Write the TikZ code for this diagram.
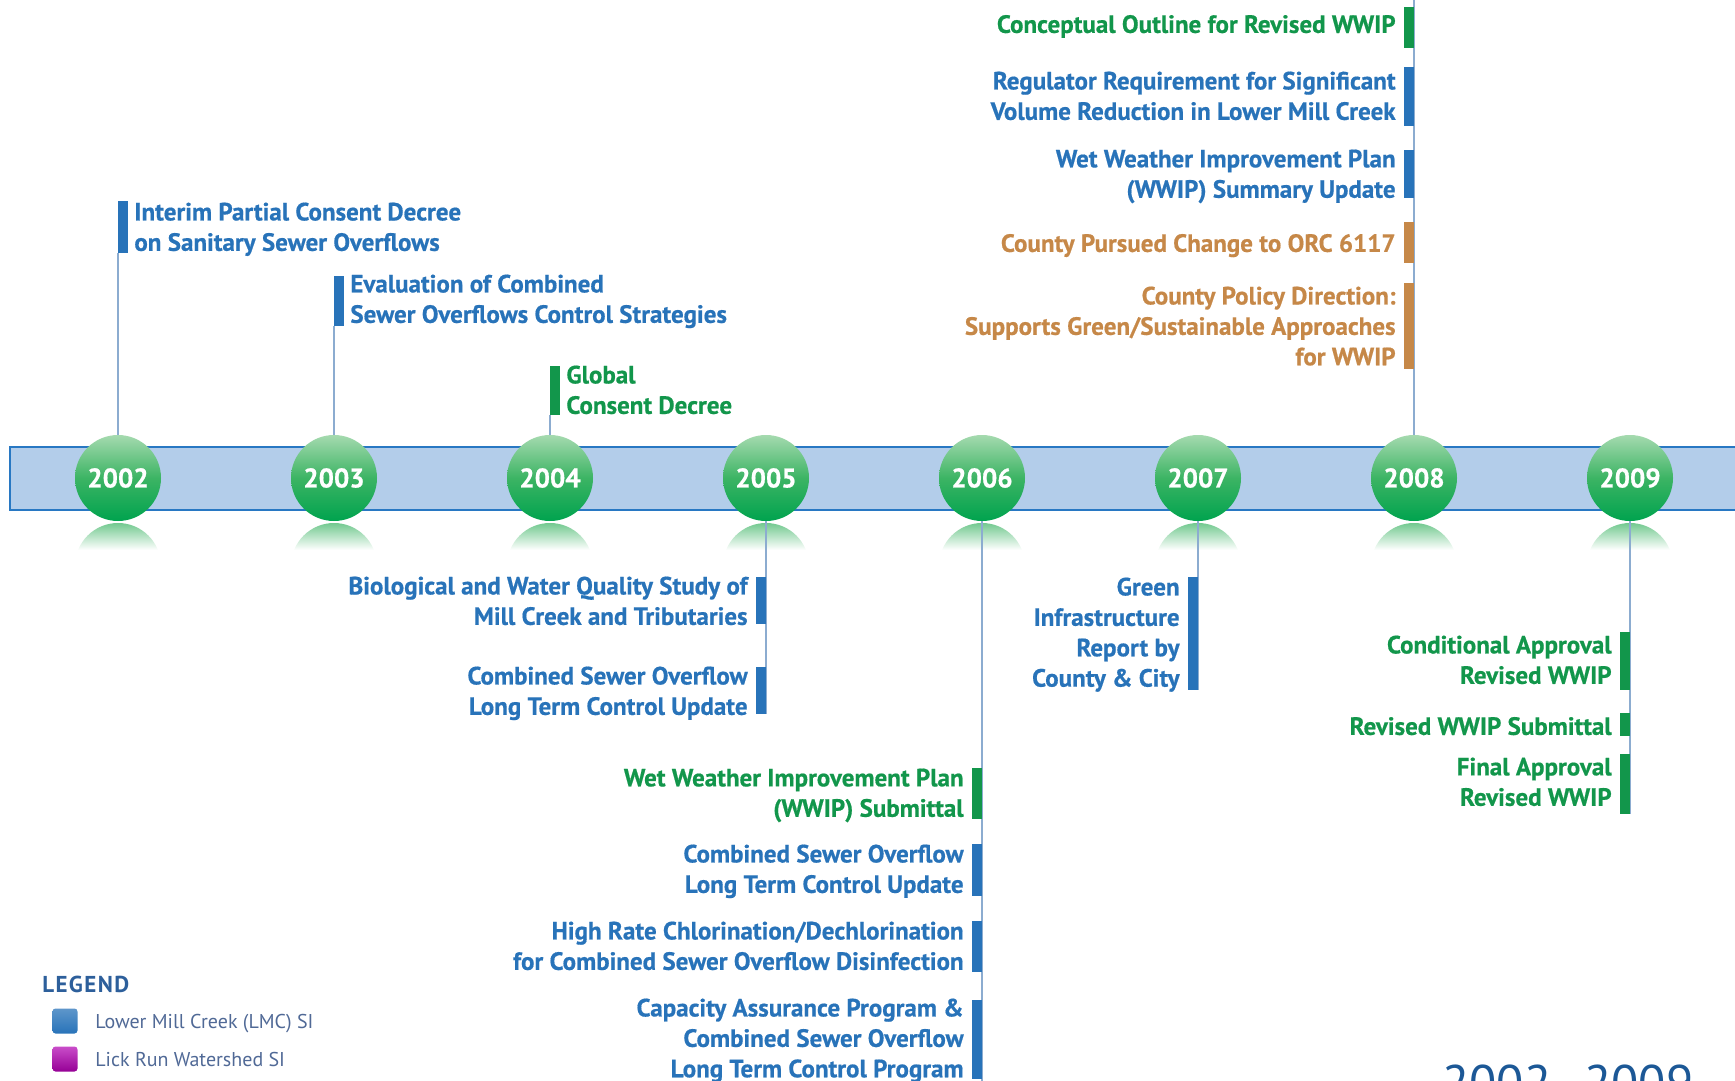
\documentclass[tikz,border=0pt]{standalone}
\usepackage{fontspec}
\setmainfont{PT Sans}
\usetikzlibrary{calc}

\definecolor{evblue}{RGB}{40,115,185}
\definecolor{evgreen}{RGB}{18,150,75}
\definecolor{evorange}{RGB}{198,136,72}
\definecolor{bandfill}{RGB}{179,205,234}
\definecolor{bandedge}{RGB}{40,120,195}
\definecolor{stem}{RGB}{140,172,208}
\definecolor{ballhi}{RGB}{165,218,175}
\definecolor{ballmid}{RGB}{60,180,100}
\definecolor{balllo}{RGB}{0,163,78}
\definecolor{legtext}{RGB}{80,105,150}
\definecolor{legtitle}{RGB}{45,95,155}
\definecolor{rangeblue}{RGB}{28,88,150}

\pgfdeclarelayer{bg}
\pgfdeclarelayer{stems}
\pgfsetlayers{bg,stems,main}

\tikzset{
  evtext/.style={inner sep=0pt, text=#1,
    font=\bfseries\fontsize{12.5}{15.2}\selectfont\addfontfeature{FakeBold=0.6},
    execute at begin node=\strut, yshift=4.9pt},
  evleft/.style={evtext=#1, anchor=north west, align=left},
  evright/.style={evtext=#1, anchor=north east, align=right},
  yearball/.style={circle, minimum size=43pt, inner sep=0pt,
    top color=ballhi, bottom color=balllo, middle color=ballmid,
    text=white, font=\bfseries\fontsize{13.5}{16}\selectfont\addfontfeature{FakeBold=0.6}},
  stemline/.style={draw=stem, line width=0.7pt},
  legsq/.style={rectangle, rounded corners=1.5pt, minimum size=12.5pt, inner sep=0pt},
  legitem/.style={anchor=base west, inner sep=0pt, text=legtext,
    font=\fontsize{10}{12}\selectfont},
}

% coloured marker bar: name, colour, x centre, top, bottom
\newcommand\evbar[5]{%
  \node[rectangle, fill=#2, inner sep=0pt, minimum width=5pt,
        minimum height={(#5-#4)*0.5pt}] (#1) at (#3,{(#4+#5)/2}) {};}

\begin{document}
\begin{tikzpicture}[x=0.5pt,y=-0.5pt]
\useasboundingbox (0,0) rectangle (1735,1081);

% ---- timeline band and reflections
\begin{pgfonlayer}{bg}
  \fill[bandfill] (10,447) rectangle (1735,510);
  \draw[bandedge, line width=1pt] (1735,447) -- (10,447) -- (10,510) -- (1735,510);
  \foreach \i in {0,...,7}{
    \begin{scope}
      \clip ({118+216*\i},566) circle (43);
      \shade[top color=ballmid!72!white, bottom color=white]
        ({118+216*\i-45},523) rectangle ({118+216*\i+45},550);
    \end{scope}
  }
\end{pgfonlayer}

% ---- year balls
\foreach \yr [count=\i from 0] in {2002,...,2009}
  \node[yearball] (y\yr) at ({118+216*\i},478) {\yr};

% ---- 2002
\evbar{b2002}{evblue}{123}{201}{253}
\node[evleft=evblue] (t2002) at (134,212)
  {Interim Partial Consent Decree\\on Sanitary Sewer Overflows};

% ---- 2003
\evbar{b2003}{evblue}{339}{276}{326}
\node[evleft=evblue] (t2003) at (350,284)
  {Evaluation of Combined\\Sewer Overflows Control Strategies};

% ---- 2004
\evbar{b2004}{evgreen}{555}{366}{415}
\node[evleft=evgreen] (t2004) at (566,375) {Global\\Consent Decree};

% ---- 2005
\evbar{b2005a}{evblue}{761}{577}{624}
\node[evright=evblue] (t2005a) at (748,586)
  {Biological and Water Quality Study of\\Mill Creek and Tributaries};
\evbar{b2005b}{evblue}{761}{667}{714}
\node[evright=evblue] (t2005b) at (748,676)
  {Combined Sewer Overflow\\Long Term Control Update};

% ---- 2006
\evbar{b2006a}{evgreen}{977}{768}{819}
\node[evright=evgreen] (t2006a) at (964,778)
  {Wet Weather Improvement Plan\\(WWIP) Submittal};
\evbar{b2006b}{evblue}{977}{844}{896}
\node[evright=evblue] (t2006b) at (964,854)
  {Combined Sewer Overflow\\Long Term Control Update};
\evbar{b2006c}{evblue}{977}{921}{972}
\node[evright=evblue] (t2006c) at (964,931)
  {High Rate Chlorination/Dechlorination\\for Combined Sewer Overflow Disinfection};
\evbar{b2006d}{evblue}{977}{1000}{1079}
\node[evright=evblue] (t2006d) at (964,1008)
  {Capacity Assurance Program \&\\Combined Sewer Overflow\hspace*{5pt}\\Long Term Control Program};

% ---- 2007
\evbar{b2007}{evblue}{1193}{577}{690}
\node[evright=evblue] (t2007) at (1180,587)
  {Green\\Infrastructure\\Report by\\County \& City};

% ---- 2008
\evbar{b2008a}{evgreen}{1409}{7}{48}
\node[evright=evgreen] (t2008a) at (1396,21) {Conceptual Outline for Revised WWIP};
\evbar{b2008b}{evblue}{1409}{67}{126}
\node[evright=evblue] (t2008b) at (1396,81)
  {Regulator Requirement for Significant\\Volume Reduction in Lower Mill Creek};
\evbar{b2008c}{evblue}{1409}{150}{198}
\node[evright=evblue] (t2008c) at (1396,159)
  {Wet Weather Improvement Plan\\(WWIP) Summary Update};
\evbar{b2008d}{evorange}{1409}{222}{263}
\node[evright=evorange] (t2008d) at (1396,240) {County Pursued Change to ORC 6117};
\evbar{b2008e}{evorange}{1409}{283}{369}
\node[evright=evorange] (t2008e) at (1396,296)
  {County Policy Direction:\\Supports Green/Sustainable Approaches\\for WWIP};

% ---- 2009
\evbar{b2009a}{evgreen}{1625}{632}{690}
\node[evright=evgreen] (t2009a) at (1612,645) {Conditional Approval\\Revised WWIP};
\evbar{b2009b}{evgreen}{1625}{713}{736}
\node[evright=evgreen] (t2009b) at (1612,723) {Revised WWIP Submittal};
\evbar{b2009c}{evgreen}{1625}{754}{814}
\node[evright=evgreen] (t2009c) at (1612,767) {Final Approval\\Revised WWIP};

% ---- stems from the balls to their markers
\coordinate (top2008) at (1414,0);
\coordinate (bot2006) at (982,1081);
\begin{pgfonlayer}{stems}
  \draw[stemline] (y2002.center) -- (y2002.center |- b2002.south);
  \draw[stemline] (y2003.center) -- (y2003.center |- b2003.south);
  \draw[stemline] (y2004.center) -- (y2004.center |- b2004.south);
  \draw[stemline] (y2005.center) -- (y2005.center |- b2005b.south);
  \draw[stemline] (y2006.center) -- (bot2006);
  \draw[stemline] (y2007.center) -- (y2007.center |- b2007.south);
  \draw[stemline] (y2008.center) -- (top2008);
  \draw[stemline] (y2009.center) -- (y2009.center |- b2009c.south);
\end{pgfonlayer}

% ---- legend
\node[anchor=west, inner sep=0pt, text=legtitle,
      font=\bfseries\fontsize{11.5}{14}\selectfont\addfontfeature{LetterSpace=6}]
  (legend) at (42,984) {LEGEND};
\node[legsq, top color=evblue!75!white, bottom color=evblue] (sqlmc) at (65,1021) {};
\node[legitem] (llmc) at (95,1028) {Lower Mill Creek (LMC) SI};
\node[legsq, top color=violet!60!magenta!70!white, bottom color=violet!70!magenta!90!black] (sqlick) at (65,1059) {};
\node[legitem] (llick) at (95,1066) {Lick Run Watershed SI};

% ---- period caption, cut by the page edge
\begin{scope}
  \clip (0,0) rectangle (1735,1081);
  \node[anchor=base west, inner sep=0pt, text=rangeblue,
        font=\fontsize{25}{30}\selectfont] (range) at (1442,1100) {2002–2009};
\end{scope}
\end{tikzpicture}
\end{document}
